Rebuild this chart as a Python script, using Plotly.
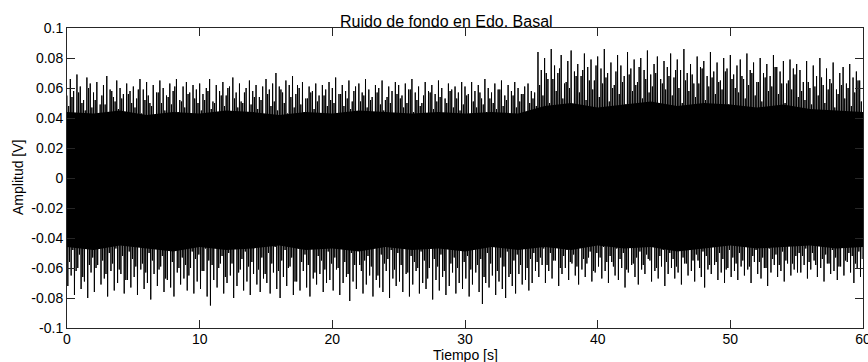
import plotly.graph_objects as go

# ---- data (values in millivolts, converted to V below) ----
# tallest upper spike tips, one every 0.25 s starting at t = 0
upper_peaks_mv = [
    55, 66, 58, 69, 61, 52, 67, 63, 57, 64, 49, 62, 68, 59, 54, 65, 60, 56, 63, 58,
    61, 53, 66, 59, 64, 50, 62, 57, 65, 60, 55, 63, 58, 66, 52, 61, 64, 57, 62, 59,
    63, 56, 60, 66, 51, 62, 58, 64, 55, 61, 67, 57, 63, 50, 60, 65, 58, 62, 54, 61,
    66, 59, 63, 70, 61, 57, 65, 62, 68, 56, 60, 64, 53, 61, 58, 63, 55, 62, 59, 64,
    60, 67, 56, 62, 58, 65, 51, 61, 63, 57, 66, 59, 54, 62, 60, 65, 52, 61, 58, 64,
    62, 55, 63, 59, 66, 57, 61, 50, 64, 58, 62, 56, 65, 60, 53, 63, 59, 61, 57, 64,
    61, 56, 64, 58, 62, 53, 66, 60, 57, 63, 59, 65, 55, 62, 58, 64, 60, 56, 61, 63, 58, 57,
    84, 72, 80, 66, 86, 75, 70, 82, 63, 78, 85, 71, 76, 68, 83, 74, 79, 65, 81, 73,
    86, 70, 77, 62, 82, 75, 68, 84, 73, 79, 64, 80, 72, 85, 69, 76, 81, 66, 78, 74,
    83, 67, 79, 72, 86, 70, 76, 63, 81, 74, 78, 68, 84, 71, 77, 65, 80, 73, 82, 69,
    75, 79, 66, 83, 72, 77, 64, 80, 70, 76, 68, 82, 74, 71, 78, 63, 79, 73, 76,
    72, 64, 78, 60, 75, 68, 80, 62, 73, 66, 77, 59, 70, 74, 63, 76, 67, 71, 65,
]
# deepest lower spike tips (magnitudes), one every 0.25 s starting at t = 0.0625
lower_peaks_mv = [
    72, 65, 78, 60, 74, 69, 80, 63, 76, 58, 71, 67, 79, 62, 75, 70, 64, 77, 68, 73,
    66, 78, 61, 74, 70, 81, 64, 72, 59, 76, 68, 73, 79, 63, 71, 67, 75, 60, 77, 69,
    74, 62, 79, 85, 68, 73, 57, 77, 70, 65, 80, 72, 61, 75, 69, 78, 64, 71, 76, 67,
    70, 77, 63, 74, 80, 66, 72, 59, 78, 69, 75, 62, 73, 79, 67, 71, 64, 76, 70, 68,
    75, 61, 78, 70, 66, 82, 69, 74, 58, 77, 71, 65, 79, 68, 73, 76, 62, 80, 67, 72,
    69, 76, 64, 79, 71, 62, 77, 70, 74, 60, 81, 68, 75, 66, 78, 72, 63, 77, 70, 74,
    67, 79, 71, 63, 76, 84, 70, 73, 65, 78, 69, 74, 80, 66, 72, 77, 64, 71, 68, 75, 70, 62,
    66, 58, 70, 62, 67, 55, 72, 64, 60, 68, 57, 65, 71, 61, 66, 53, 69, 63, 59, 67,
    62, 70, 56, 65, 68, 60, 73, 63, 58, 66, 71, 61, 64, 54, 69, 62, 67, 59, 72, 64,
    60, 67, 63, 71, 57, 65, 62, 69, 55, 66, 73, 61, 64, 58, 68, 63, 70, 60, 66, 62,
    68, 59, 65, 61, 70, 56, 64, 67, 60, 72, 63, 58, 66, 62, 69, 57, 65, 61, 63,
    63, 58, 67, 61, 55, 66, 60, 69, 57, 64, 62, 68, 59, 65, 56, 63, 70, 60, 66,
]
# shorter upper spike tips, one every 0.25 s starting at t = 0.125
upper_inner_mv = [
    48, 54, 42, 57, 50, 45, 60, 47, 52, 39, 55, 49, 44, 58, 51, 46, 53, 41, 56, 50,
    47, 59, 43, 52, 55, 48, 40, 57, 50, 45, 54, 49, 61, 44, 51, 47, 56, 42, 53, 50,
    45, 52, 58, 46, 50, 43, 55, 48, 60, 41, 53, 47, 51, 57, 44, 49, 54, 46, 52, 40,
    56, 48, 51, 45, 59, 50, 43, 54, 47, 62, 49, 44, 53, 57, 46, 51, 42, 55, 48, 52,
    50, 43, 56, 48, 53, 46, 58, 41, 51, 55, 47, 52, 44, 57, 49, 45, 54, 50, 42, 56,
    53, 47, 50, 59, 44, 52, 48, 55, 41, 57, 46, 51, 54, 43, 50, 58, 47, 53, 45, 49,
    55, 42, 51, 47, 57, 49, 44, 53, 50, 46, 59, 48, 52, 41, 55, 47, 51, 56, 44, 50, 53, 48,
    62, 55, 70, 50, 66, 58, 73, 53, 64, 60, 48, 68, 57, 72, 52, 65, 59, 75, 54, 63,
    67, 51, 60, 71, 56, 64, 49, 69, 58, 62, 74, 53, 66, 57, 61, 70, 47, 63, 59, 68,
    55, 72, 60, 50, 65, 58, 69, 54, 63, 73, 52, 61, 67, 56, 64, 59, 71, 49, 66, 60,
    57, 68, 53, 62, 70, 55, 64, 51, 67, 58, 61, 74, 56, 63, 50, 65, 59, 69, 54,
    58, 52, 64, 49, 61, 55, 67, 50, 59, 63, 47, 56, 62, 53, 60, 48, 57, 65, 51,
]
# shorter lower spike tips (magnitudes), one every 0.25 s starting at t = 0.1875
lower_inner_mv = [
    56, 48, 62, 51, 66, 45, 58, 53, 60, 42, 55, 64, 50, 57, 47, 61, 52, 68, 49, 54,
    59, 44, 57, 63, 50, 55, 46, 61, 52, 67, 48, 56, 43, 60, 53, 58, 65, 49, 54, 51,
    62, 47, 55, 58, 44, 60, 52, 66, 50, 57, 41, 63, 54, 49, 59, 56, 45, 61, 53, 64,
    50, 57, 46, 62, 55, 48, 60, 53, 69, 47, 56, 51, 58, 44, 63, 52, 55, 61, 49, 57,
    53, 60, 47, 56, 64, 50, 58, 43, 62, 55, 52, 59, 46, 65, 51, 57, 54, 48, 61, 50,
    58, 45, 63, 52, 56, 60, 49, 55, 67, 47, 54, 59, 51, 62, 44, 57, 53, 60, 48, 56,
    52, 61, 47, 58, 54, 66, 50, 57, 45, 62, 53, 59, 49, 64, 55, 51, 58, 46, 60, 54, 50, 56,
    53, 47, 58, 50, 55, 44, 60, 52, 48, 56, 51, 59, 45, 54, 57, 49, 62, 50, 53, 46,
    56, 52, 59, 47, 54, 50, 61, 44, 57, 53, 49, 58, 51, 55, 46, 60, 52, 48, 56, 50,
    54, 59, 47, 53, 57, 43, 55, 51, 60, 49, 52, 58, 46, 56, 50, 54, 61, 48, 53, 57,
    50, 55, 45, 59, 52, 48, 56, 53, 60, 47, 54, 51, 58, 49, 55, 44, 57, 52, 50,
    52, 47, 56, 50, 58, 45, 54, 51, 57, 48, 53, 59, 46, 55, 50, 52, 57, 49, 54,
]
# solid black core of the trace, one value per 2 s (t = 0 .. 60)
core_t = list(range(0, 61, 2))
core_hi_mv = [44, 43, 45, 42, 44, 43, 45, 44, 42, 44, 43, 45, 44, 43, 44, 43, 44, 43,
              48, 50, 47, 49, 51, 48, 50, 49, 47, 49, 46, 45, 44]
core_lo_mv = [46, 48, 45, 47, 49, 46, 48, 47, 45, 48, 47, 49, 46, 48, 47, 49, 46, 48,
              46, 48, 45, 47, 46, 49, 47, 45, 47, 46, 45, 47, 46]

y_tick_vals = [0.1, 0.08, 0.06, 0.04, 0.02, 0, -0.02, -0.04, -0.06, -0.08, -0.1]
y_tick_text = ["0.1", "0.08", "0.06", "0.04", "0.02", "0", "-0.02", "-0.04", "-0.06", "-0.08", "-0.1"]
x_tick_vals = [0, 10, 20, 30, 40, 50, 60]
x_tick_text = ["0", "10", "20", "30", "40", "50", "60"]

title_text = "Ruido de fondo en Edo. Basal"
x_label = "Tiempo [s]"
y_label = "Amplitud [V]"

# ---- build the interleaved signal (sample step 0.0625 s) ----
sig_t, sig_v = [], []
for i in range(len(upper_peaks_mv)):
    base = i * 0.25
    sig_t += [base, base + 0.0625, base + 0.125, base + 0.1875]
    sig_v += [upper_peaks_mv[i] / 1000.0, -lower_peaks_mv[i] / 1000.0,
              upper_inner_mv[i] / 1000.0, -lower_inner_mv[i] / 1000.0]

core_hi = [v / 1000.0 for v in core_hi_mv]
core_lo = [-v / 1000.0 for v in core_lo_mv]

FONT = "Liberation Sans, Arial, Helvetica, sans-serif"

fig = go.Figure()
fig.add_trace(go.Scatter(x=core_t, y=core_lo, mode="lines", line=dict(color="black", width=0),
                         hoverinfo="skip", showlegend=False))
fig.add_trace(go.Scatter(x=core_t, y=core_hi, mode="lines", line=dict(color="black", width=0),
                         fill="tonexty", fillcolor="black", hoverinfo="skip", showlegend=False))
fig.add_trace(go.Scatter(x=sig_t, y=sig_v, mode="lines",
                         line=dict(color="black", width=1, simplify=False),
                         showlegend=False))

axis_common = dict(showline=True, linecolor="#262626", linewidth=1, mirror="ticks",
                   ticks="inside", ticklen=8, tickcolor="#262626", tickwidth=1,
                   showgrid=False, zeroline=False, automargin=False,
                   ticklabeloverflow="allow",
                   tickfont=dict(family=FONT, size=14, color="black"))

fig.update_layout(
    width=868, height=362,
    margin=dict(l=67, r=5, t=28, b=34),
    plot_bgcolor="white", paper_bgcolor="white",
    showlegend=False,
    xaxis=dict(range=[0, 60], tickvals=x_tick_vals, ticktext=x_tick_text,
               ticklabelstandoff=-2, **axis_common),
    yaxis=dict(range=[-0.1, 0.1], tickvals=y_tick_vals, ticktext=y_tick_text, **axis_common),
    annotations=[
        dict(text=title_text, xref="paper", yref="paper", x=0.4765, y=1, yanchor="bottom",
             xanchor="center", yshift=-4, showarrow=False,
             font=dict(family=FONT, size=16, color="black")),
        dict(text=x_label, xref="paper", yref="paper", x=0.5, y=0, yanchor="top",
             xanchor="center", yshift=-17, showarrow=False,
             font=dict(family=FONT, size=14, color="black")),
        dict(text=y_label, xref="paper", yref="paper", x=0, y=0.5, xanchor="center",
             yanchor="middle", xshift=-49, textangle=-90, showarrow=False,
             font=dict(family=FONT, size=14, color="black")),
    ],
)

fig.write_html("out.html", config={"displayModeBar": False},
               post_script="document.body.style.margin='0';document.body.style.overflow='hidden';")
